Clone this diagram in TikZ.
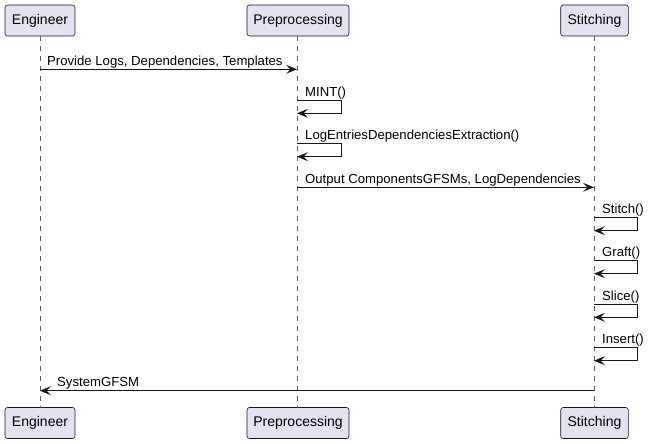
\documentclass[tikz,border=0pt]{standalone}
\usepackage{fontspec}
\setmainfont{Liberation Sans}
\usetikzlibrary{arrows.meta}
\definecolor{partfill}{HTML}{E2E2F0}
\definecolor{ink}{HTML}{181818}
\begin{document}
\begin{tikzpicture}[x=1pt,y=-1pt,
  part/.style={draw=ink,line width=0.6pt,fill=partfill,rounded corners=2.5pt,
    minimum height=31pt,inner sep=0pt,font=\fontsize{14}{16}\selectfont},
  life/.style={draw=ink!70,line width=0.5pt,dash pattern=on 5pt off 5pt},
  msg/.style={draw=ink,line width=1pt,-{Stealth[length=11pt,width=9pt,inset=4.5pt]}},
  lbl/.style={anchor=base west,inner sep=0pt,font=\fontsize{13.15}{15}\selectfont}]
\useasboundingbox (0,0) rectangle (648,444);
% participants
\node[part,minimum width=70pt] (e1) at (40,20.5) {Engineer};
\node[part,minimum width=102pt] (p1) at (298,20.5) {Preprocessing};
\node[part,minimum width=67.6pt] (s1) at (594.5,20.5) {Stitching};
\node[part,minimum width=70pt] (e2) at (40,423) {Engineer};
\node[part,minimum width=102pt] (p2) at (298,423) {Preprocessing};
\node[part,minimum width=67.6pt] (s2) at (594.5,423) {Stitching};
% lifelines
\coordinate (eT) at (40,36); \coordinate (eB) at (40,407.5);
\coordinate (pT) at (297,36); \coordinate (pB) at (297,407.5);
\coordinate (sT) at (594,36); \coordinate (sB) at (594,407.5);
\draw[life] (eT) -- (eB);
\draw[life] (pT) -- (pB);
\draw[life] (sT) -- (sB);
% message 1
\coordinate (m1a) at (40,69.3); \coordinate (m1b) at (297,69.3);
\draw[msg] (m1a) -- (m1b);
\node[lbl] (t1) at (47,65.3) {Provide Logs, Dependencies, Templates};
% MINT
\coordinate (m2a) at (297,100.3); \coordinate (m2b) at (297,113.3);
\draw[msg] (m2a) -- ++(44,0) |- (m2b);
\node[lbl] (t2) at (305,96.5) {MINT()};
% LogEntries
\coordinate (m3a) at (297,143.7); \coordinate (m3b) at (297,156.7);
\draw[msg] (m3a) -- ++(44,0) |- (m3b);
\node[lbl] (t3) at (305,139.9) {LogEntriesDependenciesExtraction()};
% Output
\coordinate (m4a) at (297,187.3); \coordinate (m4b) at (594,187.3);
\draw[msg] (m4a) -- (m4b);
\node[lbl] (t4) at (305,183.3) {Output ComponentsGFSMs, LogDependencies};
% Stitch
\coordinate (m5a) at (594,217.7); \coordinate (m5b) at (594,230.7);
\draw[msg] (m5a) -- ++(43,0) |- (m5b);
\node[lbl] (t5) at (602,213.9) {Stitch()};
% Graft
\coordinate (m6a) at (594,260.7); \coordinate (m6b) at (594,273.7);
\draw[msg] (m6a) -- ++(43,0) |- (m6b);
\node[lbl] (t6) at (602,256.9) {Graft()};
% Slice
\coordinate (m7a) at (594,304.3); \coordinate (m7b) at (594,317.3);
\draw[msg] (m7a) -- ++(43,0) |- (m7b);
\node[lbl] (t7) at (602,300.5) {Slice()};
% Insert
\coordinate (m8a) at (594,347.7); \coordinate (m8b) at (594,360.7);
\draw[msg] (m8a) -- ++(43,0) |- (m8b);
\node[lbl] (t8) at (602,343.9) {Insert()};
% SystemGFSM
\coordinate (m9a) at (594,390.7); \coordinate (m9b) at (40,390.7);
\draw[msg] (m9a) -- (m9b);
\node[lbl] (t9) at (57,386.7) {SystemGFSM};
\end{tikzpicture}
\end{document}
